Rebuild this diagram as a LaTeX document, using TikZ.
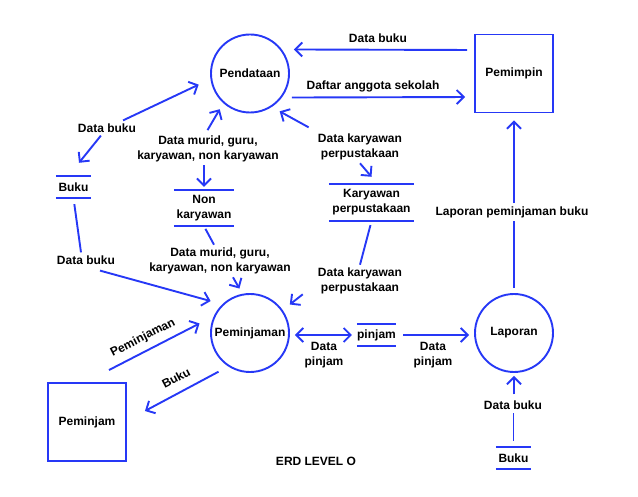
\documentclass[tikz,border=0pt]{standalone}
\usepackage{fontspec}
\setmainfont{Liberation Sans}
\usetikzlibrary{arrows.meta}
\definecolor{erdblue}{RGB}{38,56,246}
\tikzset{
  wire/.style={draw=erdblue,line width=1.9pt},
  flow/.style={wire},
  process/.style={circle,draw=erdblue,line width=1.9pt,minimum size=78pt,inner sep=0pt},
  entity/.style={rectangle,draw=erdblue,line width=1.9pt,minimum size=78pt,inner sep=0pt},
  store/.style={inner sep=0pt,align=center},
  lbl/.style={inner sep=3pt,align=center},
}
\begin{document}
\begin{tikzpicture}[x=1pt,y=-1pt,font=\fontsize{12}{15}\selectfont\bfseries,
    >={Straight Barb[length=7pt,width=14pt]}]
                \useasboundingbox (0,0) rectangle (638,497);
                %% Processes and entities
                \node[process] (pendataan) at (250,73.5) {Pendataan};
                \node[process] (peminjaman) at (250,333) {Peminjaman};
                \node[process] (laporan) at (514,333) {Laporan};
                \node[entity] (pemimpin) at (514,73.5) {Pemimpin};
                \node[entity] (peminjam) at (87,422) {Peminjam};
                %% Data stores
                \node[store,minimum width=35pt,minimum height=22pt] (bukuA) at (73.5,187) {Buku};
                \node[store,minimum width=60pt,minimum height=36pt] (nonkar) at (204,208) {Non\\karyawan};
                \node[store,minimum width=85pt,minimum height=37pt] (karper) at (371.5,202.5) {Karyawan\\perpustakaan};
                \node[store,minimum width=35pt,minimum height=22pt] (pinjam) at (376.5,335) {pinjam};
                \node[store,minimum width=35pt,minimum height=22pt] (bukuB) at (513.5,458) {Buku};
                \foreach \s in {bukuA,nonkar,karper,pinjam,bukuB}
                  \draw[wire] (\s.north west) -- (\s.north east) (\s.south west) -- (\s.south east);
                %% Labels
                \node[lbl] (lBukuTop) at (378,38) {Data buku};
                \node[lbl] (lDaftar) at (373,86) {Daftar anggota sekolah};
                \node[lbl] (lBukuA) at (107,128) {Data buku};
                \node[lbl] (lMurid1) at (208,149) {Data murid, guru,\\karyawan, non karyawan};
                \node[lbl] (lKar1) at (360,147) {Data karyawan\\perpustakaan};
                \node[lbl] (lBukuA2) at (86,260) {Data buku};
                \node[lbl] (lMurid2) at (220,261) {Data murid, guru,\\karyawan, non karyawan};
                \node[lbl] (lKar2) at (360,281) {Data karyawan\\perpustakaan};
                \node[lbl,rotate=27] (lPeminjaman) at (143,338) {Peminjaman};
                \node[lbl,rotate=28] (lBuku) at (176,378) {Buku};
                \node[lbl] (lPinjam1) at (324,355) {Data\\pinjam};
                \node[lbl] (lPinjam2) at (433,355) {Data\\pinjam};
                \node[lbl] (lLaporan) at (512,212) {Laporan peminjaman buku};
                \node[lbl] (lBukuB) at (513,405) {Data buku};
                \node[lbl] (title) at (316,461) {ERD LEVEL O};
                %% Pendataan <-> Pemimpin
                \draw[flow,->,shorten <=7pt,shorten >=12pt] ([yshift=23.5pt]pemimpin.west) -- (pendataan.37);
                \draw[flow,->,shorten <=10pt,shorten >=9pt] (pendataan.-37) -- ([yshift=-23.5pt]pemimpin.west);
                %% Buku <-> Pendataan
                \draw[flow,->,shorten >=13pt] (lBukuA) -- (pendataan.188);
                \draw[flow,->] (lBukuA) -- ([xshift=5.5pt,yshift=13pt]bukuA.north);
                %% Non karyawan <-> Pendataan
                \draw[flow,->,shorten <=3pt,shorten >=7pt] ([xshift=-2pt]lMurid1.north) -- (pendataan.228);
                \draw[flow,->,shorten >=3pt] (lMurid1.south -| nonkar.north) -- (nonkar.north);
                %% Karyawan perpustakaan <-> Pendataan
                \draw[flow,->,shorten <=7pt,shorten >=9pt] (lKar1.north west) -- (pendataan.-57);
                \draw[flow,->] (lKar1.south) -- ([yshift=7pt]karper.north);
                %% Stores -> Peminjaman
                \draw[wire,shorten <=6pt] (bukuA.south) -- ([xshift=-5pt]lBukuA2.north);
                \draw[flow,->,shorten >=12pt] ([xshift=14pt,yshift=-3pt]lBukuA2.south) -- (peminjaman.134);
                \draw[wire,shorten <=3pt] (nonkar.south) -- ([xshift=-6pt]lMurid2.north);
                \draw[flow,->,shorten >=6pt] ([xshift=13pt]lMurid2.south) -- (peminjaman.101);
                \draw[wire,shorten <=4pt] (karper.south) -- (lKar2.north);
                \draw[flow,->,shorten >=9pt] ([xshift=-12pt,yshift=3pt]lKar2.south west) -- (peminjaman.35);
                %% Peminjam <-> Peminjaman
                \draw[flow,->,shorten >=16pt] ([xshift=-18pt,yshift=12pt]peminjam.north east) -- (peminjaman.155);
                \draw[flow,->,shorten <=11pt] (peminjaman.237) -- ([xshift=18pt,yshift=11pt]peminjam.east);
                %% Peminjaman <-> pinjam -> Laporan
                \draw[flow,<->,shorten <=5pt,shorten >=5pt] (peminjaman.east |- pinjam) -- (pinjam.west);
                \draw[flow,->,shorten <=7pt,shorten >=5pt] (pinjam.east) -- (laporan.west |- pinjam);
                %% Laporan -> Pemimpin, Buku -> Laporan
                \draw[wire,shorten <=5pt] (laporan.north) -- (laporan.north |- lLaporan.south);
                \draw[flow,->,shorten >=7pt] (pemimpin.south |- lLaporan.north) -- (pemimpin.south);
                \draw[wire,shorten <=6pt] (bukuB.north) -- (bukuB.north |- lBukuB.south);
                \draw[flow,->,shorten <=3pt,shorten >=3pt] (laporan.south |- lBukuB.north) -- (laporan.south);
            \end{tikzpicture}
\end{document}
